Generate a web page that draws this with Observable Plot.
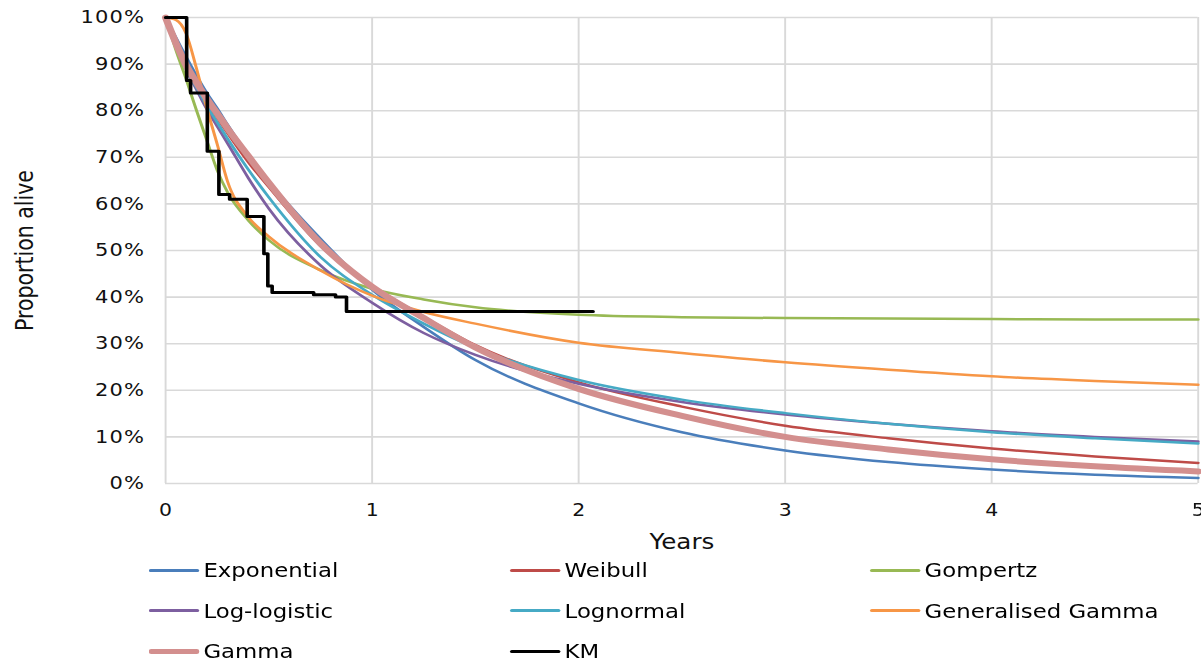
<!DOCTYPE html>
<html><head><meta charset="utf-8">
<script src="https://cdn.jsdelivr.net/npm/d3@7"></script>
<script src="https://cdn.jsdelivr.net/npm/@observablehq/plot@0.6"></script>
<style>
html,body{margin:0;padding:0;background:#fff;}
#wrap{width:1001px;transform:scaleX(1.2);transform-origin:0 0;font-family:"DejaVu Sans",Verdana,sans-serif;}
#legend{display:grid;grid-template-columns:301px 300px 300px;padding-left:124px;grid-auto-rows:40.5px;margin-top:-6px;}
.item{display:flex;align-items:center;font-size:19px;color:#000;white-space:nowrap;}
.sw{width:42px;margin-right:3.5px;border-radius:2px;}
[aria-label="x-axis label"],[aria-label="y-axis label"]{font-size:20.5px;}
[aria-label="y-axis tick label"]{font-size:17.5px;letter-spacing:1px;}
</style></head><body><div id="wrap"><div id="chart"></div><div id="legend"></div></div>
<script>
const years = [0,0.05,0.1,0.15,0.2,0.25,0.3,0.4,0.5,0.75,1,1.25,1.5,2,2.5,3,3.5,4,4.5,5];
const exponential = [1,0.957,0.915,0.875,0.838,0.805,0.77,0.705,0.648,0.525,0.416,0.336,0.265,0.172,0.11,0.071,0.046,0.03,0.019,0.012];
const weibull = [1,0.94,0.893,0.855,0.818,0.785,0.752,0.69,0.636,0.51,0.425,0.358,0.297,0.217,0.165,0.124,0.097,0.075,0.058,0.044];
const gompertz = [1,0.93,0.867,0.8,0.736,0.672,0.625,0.565,0.522,0.458,0.418,0.395,0.378,0.362,0.357,0.355,0.354,0.353,0.352,0.352];
const loglogistic = [1,0.94,0.888,0.845,0.803,0.766,0.73,0.656,0.59,0.468,0.388,0.323,0.276,0.214,0.175,0.148,0.128,0.112,0.1,0.09];
const lognormal = [1,0.94,0.89,0.85,0.81,0.775,0.74,0.674,0.614,0.486,0.405,0.343,0.291,0.222,0.18,0.151,0.128,0.11,0.097,0.086];
const genGamma = [1,0.995,0.965,0.89,0.805,0.728,0.648,0.572,0.53,0.457,0.403,0.368,0.343,0.302,0.28,0.26,0.244,0.23,0.22,0.212];
const gamma = [1,0.945,0.897,0.86,0.825,0.794,0.762,0.703,0.645,0.515,0.422,0.355,0.292,0.203,0.145,0.1,0.073,0.052,0.037,0.026];
const kmTime = [0,0.102,0.121,0.202,0.258,0.31,0.395,0.476,0.495,0.516,0.717,0.823,0.876,2.07];
const kmSurv = [1,0.865,0.838,0.713,0.62,0.61,0.573,0.493,0.424,0.41,0.405,0.4,0.369,0.369];
const seriesNames = ["Exponential","Weibull","Gompertz","Log-logistic","Lognormal","Generalised Gamma","Gamma","KM"];
const xTicks = [0,1,2,3,4,5];
const yTicks = [0,0.1,0.2,0.3,0.4,0.5,0.6,0.7,0.8,0.9,1];

const models = [
  {name:seriesNames[0], values:exponential, color:"#4a7ebb", width:2.5},
  {name:seriesNames[1], values:weibull, color:"#be4b48", width:2.5},
  {name:seriesNames[2], values:gompertz, color:"#98b954", width:2.5},
  {name:seriesNames[3], values:loglogistic, color:"#7d5fa0", width:2.5},
  {name:seriesNames[4], values:lognormal, color:"#46aac5", width:2.5},
  {name:seriesNames[5], values:genGamma, color:"#f79646", width:2.5},
  {name:seriesNames[6], values:gamma, color:"#d38f8e", width:6}
];
const km = {name:seriesNames[7], color:"#000", width:3};

const chart = Plot.plot({
  width: 1001, height: 556,
  marginLeft: 137.5, marginRight: 3, marginTop: 17, marginBottom: 73,
  style: {fontFamily: '"DejaVu Sans", Verdana, sans-serif', fontSize: "17px", color: "#111", background: "#fff", overflow: "visible"},
  x: {domain: [0,5]},
  y: {domain: [0,1]},
  marks: [
    Plot.gridY(yTicks, {stroke:"#d9d9d9", strokeOpacity:1, strokeWidth:1.6}),
    Plot.gridX(xTicks, {stroke:"#d9d9d9", strokeOpacity:1, strokeWidth:1.6}),
    ...models.map(m => Plot.line(years.map((t,i)=>({t, s:m.values[i]})), {x:"t", y:"s", stroke:m.color, strokeWidth:m.width, curve:"monotone-x"})),
    Plot.line(kmTime.map((t,i)=>({t, s:kmSurv[i]})), {x:"t", y:"s", stroke:km.color, strokeWidth:km.width, curve:"step-after"}),
    Plot.axisX(xTicks, {tickSize:0, tickPadding:20, tickFormat:d3.format("d"), label:"Years", labelAnchor:"center", labelOffset:65, labelArrow:"none"}),
    Plot.axisY(yTicks, {tickSize:0, tickPadding:17, tickFormat:d3.format(".0%"), label:"Proportion alive", labelAnchor:"center", labelOffset:125, labelArrow:"none"})
  ]
});
document.getElementById("chart").appendChild(chart);

const legend = document.getElementById("legend");
[...models, km].forEach(m => {
  const it = document.createElement("div");
  it.className = "item";
  const sw = document.createElement("span");
  sw.className = "sw";
  sw.style.background = m.color;
  sw.style.height = (m.width > 4 ? 5 : 3) + "px";
  it.appendChild(sw);
  it.appendChild(document.createTextNode(m.name));
  legend.appendChild(it);
});
</script></body></html>
